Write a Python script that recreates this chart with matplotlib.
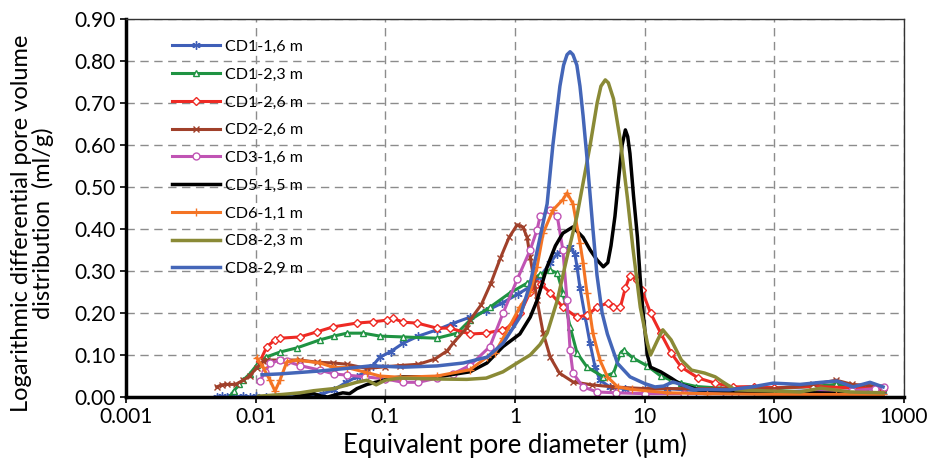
import matplotlib
matplotlib.use("Agg")
import matplotlib.pyplot as plt
from matplotlib.ticker import FixedLocator, FixedFormatter, MultipleLocator, FormatStrFormatter

plt.rcParams["font.family"] = ["Lato", "DejaVu Sans"]

# pore diameter (um) / log differential intrusion (ml/g)
cd1_16_x = [0.005, 0.0055, 0.006, 0.0065, 0.007, 0.008, 0.009, 0.01, 0.012, 0.014, 0.017, 0.02, 0.024,
            0.028, 0.033, 0.04, 0.05, 0.06, 0.07, 0.08, 0.091, 0.11, 0.137, 0.18, 0.25, 0.33, 0.45, 0.6,
            0.8, 1.05, 1.3, 1.56, 1.87, 2.1, 2.34, 2.66, 2.9, 3.01, 3.17, 3.48, 3.79, 4.14, 4.52, 5.4, 7,
            10, 15, 25, 40, 70, 100, 200, 400, 690]
cd1_16_y = [0.0, 0.002, 0.0, 0.002, 0.0, 0.002, 0.0, 0.002, 0.0, 0.003, 0.0, 0.003, 0.002,
            0.004, 0.008, 0.017, 0.035, 0.048, 0.06, 0.075, 0.095, 0.108, 0.128, 0.145, 0.16, 0.175, 0.19, 0.205,
            0.224, 0.245, 0.262, 0.286, 0.32, 0.34, 0.35, 0.357, 0.34, 0.31, 0.26, 0.19, 0.128, 0.072, 0.04, 0.024, 0.02,
            0.018, 0.02, 0.015, 0.012, 0.015, 0.012, 0.015, 0.012, 0.012]

cd1_23_x = [0.0063, 0.0068, 0.0075, 0.008, 0.009, 0.0102, 0.012, 0.0154, 0.0208, 0.0313, 0.04, 0.0506,
            0.0674, 0.0911, 0.137, 0.25, 0.357, 0.45, 0.643, 0.915, 1.24, 1.56, 1.87, 2.12, 2.34, 2.66,
            3.01, 3.6, 4.8, 5.75, 6.53, 6.9, 8.1, 10.5, 13.3, 16, 19.2, 25, 35, 50, 100, 200, 300, 500, 690]
cd1_23_y = [0.0, 0.015, 0.03, 0.04, 0.055, 0.076, 0.095, 0.107, 0.117, 0.136, 0.145, 0.152,
            0.152, 0.145, 0.143, 0.14, 0.152, 0.183, 0.214, 0.248, 0.271, 0.292, 0.302, 0.295, 0.248, 0.167,
            0.105, 0.071, 0.048, 0.057, 0.105, 0.112, 0.093, 0.074, 0.05, 0.04, 0.033, 0.025, 0.022, 0.02, 0.02,
            0.025, 0.03, 0.025, 0.02]

cd1_26_x = [0.0108, 0.0122, 0.0141, 0.0154, 0.0219, 0.0296, 0.0396, 0.06, 0.08, 0.103, 0.114, 0.137,
            0.176, 0.25, 0.316, 0.45, 0.6, 0.8, 0.915, 1.1, 1.31, 1.48, 1.6, 1.87, 2.34, 3.0, 3.6, 4.3,
            5.2, 5.75, 6.5, 7.1, 7.7, 8.8, 9.5, 11.1, 13.3, 16, 19.2, 26, 35, 48, 70, 100, 200, 400, 690]
cd1_26_y = [0.085, 0.12, 0.136, 0.14, 0.143, 0.155, 0.167, 0.176, 0.179, 0.183, 0.188, 0.178,
            0.176, 0.164, 0.164, 0.15, 0.152, 0.16, 0.167, 0.2, 0.25, 0.27, 0.268, 0.248, 0.214, 0.19, 0.195, 0.214,
            0.224, 0.214, 0.214, 0.26, 0.288, 0.279, 0.255, 0.2, 0.152, 0.105, 0.071, 0.045, 0.033, 0.024, 0.025,
            0.022, 0.025, 0.022, 0.02]

cd2_26_x = [0.005, 0.0055, 0.006, 0.007, 0.008, 0.009, 0.0102, 0.0114, 0.0122, 0.0154, 0.0219, 0.0296,
            0.0396, 0.0506, 0.072, 0.1, 0.13, 0.18, 0.24, 0.3, 0.333, 0.425, 0.45, 0.55, 0.65, 0.77, 0.9,
            1.04, 1.15, 1.24, 1.31, 1.4, 1.48, 1.65, 1.87, 2.2, 2.8, 3.9, 5.75, 10, 20, 40, 100, 200, 300,
            400, 690]
cd2_26_y = [0.024, 0.029, 0.03, 0.03, 0.04, 0.05, 0.07, 0.085, 0.088, 0.088, 0.088, 0.083,
            0.081, 0.078, 0.068, 0.072, 0.075, 0.078, 0.09, 0.11, 0.128, 0.165, 0.183, 0.22, 0.27, 0.33, 0.38,
            0.41, 0.405, 0.38, 0.333, 0.28, 0.23, 0.152, 0.095, 0.057, 0.036, 0.029, 0.024, 0.02, 0.02, 0.02,
            0.02, 0.03, 0.04, 0.03, 0.025]

cd3_16_x = [0.0108, 0.0118, 0.0129, 0.0154, 0.0174, 0.0219, 0.0313, 0.04, 0.0506, 0.07, 0.1, 0.137,
            0.18, 0.25, 0.33, 0.45, 0.64, 0.81, 1.04, 1.31, 1.48, 1.56, 1.87, 2.12, 2.34, 2.52, 2.66, 2.8,
            3.35, 4.3, 6, 10, 20, 50, 100, 200, 400, 600, 700]
cd3_16_y = [0.038, 0.06, 0.08, 0.088, 0.085, 0.075, 0.064, 0.055, 0.052, 0.048, 0.043, 0.035,
            0.035, 0.045, 0.055, 0.075, 0.12, 0.2, 0.28, 0.35, 0.398, 0.43, 0.445, 0.43, 0.35, 0.23, 0.112, 0.057,
            0.024, 0.012, 0.01, 0.008, 0.008, 0.008, 0.01, 0.012, 0.015, 0.02, 0.025]

cd5_15_x = [0.02, 0.025, 0.028, 0.032, 0.036, 0.042, 0.047, 0.053, 0.0604, 0.0724, 0.0867, 0.11, 0.137,
            0.25, 0.45, 0.608, 0.808, 1.09, 1.31, 1.48, 1.77, 2.05, 2.34, 2.8, 3.35, 3.8, 4.3, 4.8, 5.2,
            5.5, 5.9, 6.3, 6.7, 7.1, 7.4, 7.7, 8.2, 8.8, 9.25, 9.8, 10.5, 11.1, 13.3, 16, 19, 26, 50, 100,
            200, 400, 690]
cd5_15_y = [0.0, 0.006, 0.008, 0.002, 0.0, 0.006, 0.01, 0.008, 0.02, 0.03, 0.036, 0.045, 0.048,
            0.048, 0.06, 0.081, 0.12, 0.15, 0.19, 0.23, 0.31, 0.36, 0.39, 0.405, 0.38, 0.35, 0.326, 0.31, 0.32,
            0.36, 0.43, 0.52, 0.6, 0.636, 0.62, 0.58, 0.48, 0.38, 0.28, 0.19, 0.1, 0.071, 0.06, 0.045, 0.03,
            0.017, 0.012, 0.01, 0.01, 0.008, 0.008]

cd6_11_x = [0.0102, 0.0114, 0.0129, 0.0141, 0.0154, 0.0174, 0.0208, 0.0313, 0.0396, 0.0506, 0.0724,
            0.0911, 0.13, 0.25, 0.45, 0.608, 0.7, 0.81, 1.09, 1.31, 1.48, 1.65, 1.96, 2.34, 2.52, 2.8, 3.17,
            3.35, 3.59, 3.99, 4.52, 5.16, 6.2, 8, 15, 30, 100, 300, 690]
cd6_11_y = [0.093, 0.071, 0.04, 0.014, 0.04, 0.084, 0.088, 0.081, 0.071, 0.07, 0.058,
            0.05, 0.047, 0.05, 0.065, 0.095, 0.105, 0.14, 0.214, 0.25, 0.31, 0.39, 0.445, 0.47, 0.486, 0.46, 0.367,
            0.32, 0.248, 0.152, 0.088, 0.048, 0.024, 0.018, 0.01, 0.008, 0.006, 0.006, 0.006]

cd8_23_x = [0.0105, 0.013, 0.016, 0.022, 0.028, 0.04, 0.05, 0.06, 0.0724, 0.085, 0.1, 0.13, 0.233,
            0.425, 0.6, 0.808, 1.09, 1.31, 1.56, 1.77, 2.12, 2.52, 3.0, 3.4, 3.8, 4.3, 4.6, 4.97, 5.25,
            5.75, 6.5, 7.35, 8.1, 9.25, 10.5, 11.1, 12.6, 13.8, 16, 19.2, 23, 29, 35, 40, 50, 158, 228,
            385, 690]
cd8_23_y = [0.002, 0.004, 0.006, 0.01, 0.015, 0.02, 0.028, 0.035, 0.04, 0.029, 0.04, 0.045, 0.043,
            0.042, 0.045, 0.06, 0.085, 0.1, 0.125, 0.152, 0.23, 0.333, 0.43, 0.52, 0.6, 0.7, 0.74, 0.755, 0.748,
            0.71, 0.61, 0.476, 0.357, 0.214, 0.128, 0.1, 0.136, 0.16, 0.136, 0.088, 0.064, 0.057, 0.048, 0.036,
            0.017, 0.012, 0.021, 0.012, 0.01]

cd8_29_x = [0.0112, 0.0154, 0.0313, 0.05, 0.076, 0.1, 0.137, 0.25, 0.4, 0.61, 0.81, 1.09, 1.31, 1.56,
            1.77, 1.96, 2.22, 2.37, 2.52, 2.66, 2.8, 3.0, 3.17, 3.35, 3.59, 3.99, 4.29, 4.7, 5.16, 6.18, 7.71,
            10, 12, 14, 16.5, 19, 24, 45, 70, 98, 158, 230, 304, 404, 547, 690]
cd8_29_y = [0.053, 0.055, 0.062, 0.068, 0.074, 0.073, 0.071, 0.074, 0.081, 0.095, 0.128, 0.19, 0.27, 0.38,
            0.46, 0.6, 0.74, 0.79, 0.815, 0.822, 0.815, 0.79, 0.74, 0.67, 0.57, 0.4, 0.29, 0.2, 0.15, 0.08, 0.048,
            0.032, 0.024, 0.026, 0.036, 0.03, 0.018, 0.017, 0.025, 0.033, 0.03, 0.035, 0.038, 0.024, 0.035, 0.024]

labels = ["CD1-1,6 m", "CD1-2,3 m", "CD1-2,6 m", "CD2-2,6 m", "CD3-1,6 m",
          "CD5-1,5 m", "CD6-1,1 m", "CD8-2,3 m", "CD8-2,9 m"]
xs = [cd1_16_x, cd1_23_x, cd1_26_x, cd2_26_x, cd3_16_x, cd5_15_x, cd6_11_x, cd8_23_x, cd8_29_x]
ys = [cd1_16_y, cd1_23_y, cd1_26_y, cd2_26_y, cd3_16_y, cd5_15_y, cd6_11_y, cd8_23_y, cd8_29_y]

colors = ["#3f5fb8", "#1f9342", "#ee2a24", "#a0402a", "#c054b4",
          "#000000", "#f47424", "#8a8a36", "#4466b8"]
markers = [(6, 2, 0), "^", "D", "x", "o", None, "+", None, None]
hollow = [False, True, True, False, True, False, False, False, False]
widths = [2.2, 2.2, 2.2, 2.2, 2.2, 2.5, 2.2, 2.5, 2.5]
msizes = [6, 5, 4, 5, 5, 0, 6, 0, 0]

fig = plt.figure(figsize=(9.36, 4.69), dpi=100)
ax = fig.add_axes([0.1346, 0.1535, 0.8312, 0.806])

for x, y, lab, c, m, h, w, ms in zip(xs, ys, labels, colors, markers, hollow, widths, msizes):
    kw = dict(color=c, lw=w, label=lab)
    if m is not None:
        kw.update(marker=m, markersize=ms, markeredgewidth=1.0, markeredgecolor=c,
                  markerfacecolor="white" if h else c)
    ax.plot(x, y, **kw)

ax.set_xscale("log")
ax.set_xlim(0.001, 1000)
ax.set_ylim(0, 0.9)
xt = [0.001, 0.01, 0.1, 1, 10, 100, 1000]
ax.xaxis.set_major_locator(FixedLocator(xt))
ax.xaxis.set_major_formatter(FixedFormatter(["0.001", "0.01", "0.1", "1", "10", "100", "1000"]))
ax.xaxis.set_minor_locator(FixedLocator([]))
ax.yaxis.set_major_locator(MultipleLocator(0.1))
ax.yaxis.set_major_formatter(FormatStrFormatter("%.2f"))

ax.grid(True, which="major", color="#8c8c8c", linestyle=(0, (6, 4)), linewidth=1.0)
ax.set_axisbelow(True)
ax.tick_params(labelsize=15, direction="out", length=4, width=1.2, colors="black")
for s in ["left", "bottom"]:
    ax.spines[s].set_linewidth(2.5)
for s in ["top", "right"]:
    ax.spines[s].set_linewidth(1.0)
    ax.spines[s].set_color("#333333")

ax.set_xlabel("Equivalent pore diameter (\u00b5m)", fontsize=18.5, labelpad=3)
ax.set_ylabel("Logarithmic differential pore volume\ndistribution  (ml/g)", fontsize=17,
              linespacing=1.0)
ax.yaxis.set_label_coords(-0.092, 0.46)

ax.legend(loc="upper left", bbox_to_anchor=(0.059, 0.945), frameon=False, fontsize=11.5,
          handlelength=3.0, handletextpad=0.3, labelspacing=0.85, borderpad=0, borderaxespad=0)

fig.savefig("out.png", dpi=100)
